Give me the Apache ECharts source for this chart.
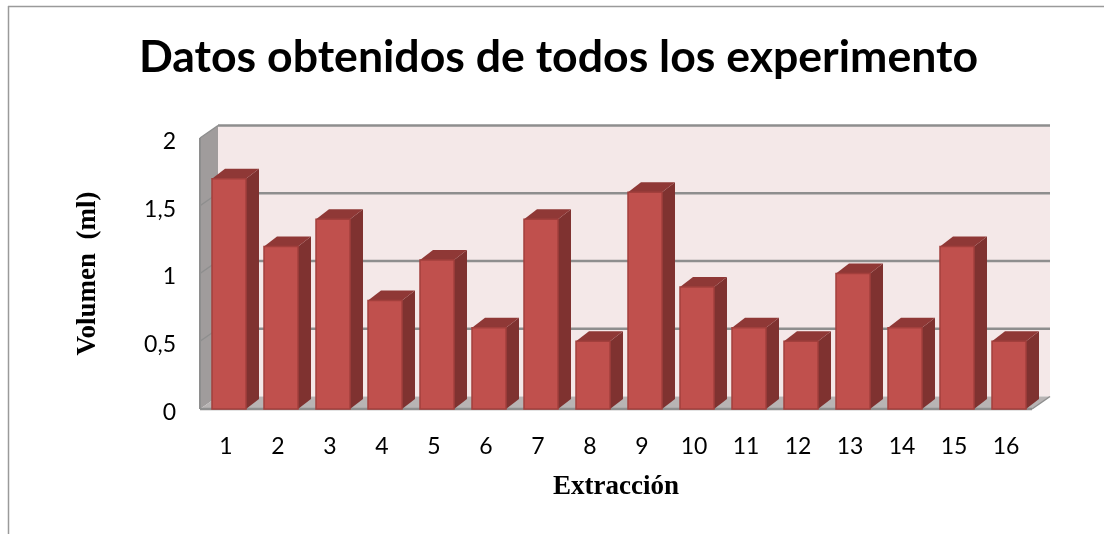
<!DOCTYPE html>
<html><head><meta charset="utf-8">
<style>html,body{margin:0;padding:0;background:#fff}#c{width:1104px;height:534px}</style>
<script src="https://cdn.jsdelivr.net/npm/echarts@6/dist/echarts.min.js"></script>
</head><body><div id="c"></div>
<script>
const categories = ['1','2','3','4','5','6','7','8','9','10','11','12','13','14','15','16'];
const volumes = [1.7,1.2,1.4,0.8,1.1,0.6,1.4,0.5,1.6,0.9,0.6,0.5,1.0,0.6,1.2,0.5];
const ticks = [0,0.5,1,1.5,2];
const titleText = 'Datos obtenidos de todos los experimento';
const xName = 'Extracción';
const yName = 'Volumen  (ml)';

const WALL_DX = 18, WALL_DY = -12.5, BAR_DX = 13, BAR_DY = -10, BAR_W = 34;
const chart = echarts.init(document.getElementById('c'), null, {renderer:'canvas'});
const poly = (points, fill, stroke, lw, z2) => ({type:'polygon', z2:z2||0, shape:{points}, style:{fill, stroke:stroke||null, lineWidth:lw||0}});
const line = (a,b,color,w,z2) => ({type:'line', z2:z2||0, shape:{x1:a[0],y1:a[1],x2:b[0],y2:b[1]}, style:{stroke:color,lineWidth:w}});

chart.setOption({
  animation:false,
  backgroundColor:'#fff',
  title:{text:titleText,left:553.5,top:30,textAlign:'center',textStyle:{fontFamily:'Lato',fontWeight:'bold',fontSize:44.6,color:'#000'}},
  grid:{left:200,right:72,top:138,bottom:125},
  xAxis:{type:'category',data:categories,name:xName,nameLocation:'middle',nameGap:65,
    nameTextStyle:{fontFamily:'Liberation Serif',fontWeight:'bold',fontSize:27,color:'#000'},
    axisLine:{show:false},axisTick:{show:false},
    axisLabel:{fontFamily:'Lato',fontSize:23,color:'#000',margin:26}},
  yAxis:{type:'value',min:0,max:2,interval:0.5,name:yName,nameLocation:'middle',nameGap:98,
    nameTextStyle:{fontFamily:'Liberation Serif',fontWeight:'bold',fontSize:27,color:'#000'},
    axisLine:{show:false},axisTick:{show:false},splitLine:{show:false},
    axisLabel:{margin:24,
      rich:{a:{fontFamily:'Lato',fontSize:23,color:'#000',padding:[7,0,0,0]}},
      formatter:v=>'{a|'+String(v).replace('.',',')+'}'}},
  series:[
    {type:'custom',coordinateSystem:'cartesian2d',clip:false,silent:true,z:1,
     data:ticks.map(t=>[0,t]),
     renderItem(params,api){
       const t=api.value(1);
       const l=api.coord([0,t])[0]-api.size([1,0])[0]/2;
       const r=api.coord([15,t])[0]+api.size([1,0])[0]/2;
       const y=api.coord([0,t])[1], y0=api.coord([0,0])[1], y2=api.coord([0,2])[1];
       const ch=[];
       if(params.dataIndex===0){
         ch.push(poly([[l+WALL_DX,y2+WALL_DY],[r+WALL_DX,y2+WALL_DY],[r+WALL_DX,y0+WALL_DY],[l+WALL_DX,y0+WALL_DY]],'#f4e8e8'));
         ch.push(poly([[l,y2],[l+WALL_DX,y2+WALL_DY],[l+WALL_DX,y0+WALL_DY],[l,y0]],'#a09c9c'));
         ch.push(poly([[l,y0],[l+WALL_DX,y0+WALL_DY],[r+WALL_DX,y0+WALL_DY],[r,y0]],'#b8b4b4'));
         ch.push(line([l,y2],[l,y0],'#8e8e8e',2,3));
         ch.push(line([l,y0],[r,y0],'#8e8e8e',2.5,3));
         ch.push(line([r,y0],[r+WALL_DX,y0+WALL_DY],'#8e8e8e',1.5,3));
       }
       if(params.dataIndex>0){
         ch.push(line([l+WALL_DX,y+WALL_DY],[r+WALL_DX,y+WALL_DY],'#8e8e8e',2.5,2));
         ch.push(line([l,y],[l+WALL_DX,y+WALL_DY],'#8e8e8e',1.5,2));
       }
       return {type:'group',children:ch};
     }},
    {type:'custom',coordinateSystem:'cartesian2d',clip:false,silent:true,z:3,
     data:volumes.map((v,i)=>[i,v]),
     encode:{x:0,y:1},
     renderItem(params,api){
       const top=api.coord([api.value(0),api.value(1)]);
       const base=api.coord([api.value(0),0]);
       const x0=top[0]-BAR_W/2+3, x1=x0+BAR_W, yt=top[1], yb=base[1];
       return {type:'group',children:[
         poly([[x1,yt],[x1+BAR_DX,yt+BAR_DY],[x1+BAR_DX,yb+BAR_DY],[x1,yb]],'#7f3230'),
         poly([[x0,yt],[x0+BAR_DX,yt+BAR_DY],[x1+BAR_DX,yt+BAR_DY],[x1,yt]],'#8f3836'),
         {type:'rect',shape:{x:x0,y:yt,width:BAR_W,height:yb-yt},style:{fill:'#c0504d',stroke:'#a23f3c',lineWidth:1.5}}
       ]};
     }}
  ],
  graphic:[
    {type:'line',shape:{x1:8,y1:6.5,x2:1104,y2:6.5},style:{stroke:'#9a9a9a',lineWidth:1.5},silent:true},
    {type:'line',shape:{x1:8.5,y1:6,x2:8.5,y2:534},style:{stroke:'#9a9a9a',lineWidth:1.5},silent:true}
  ]
});
</script></body></html>
